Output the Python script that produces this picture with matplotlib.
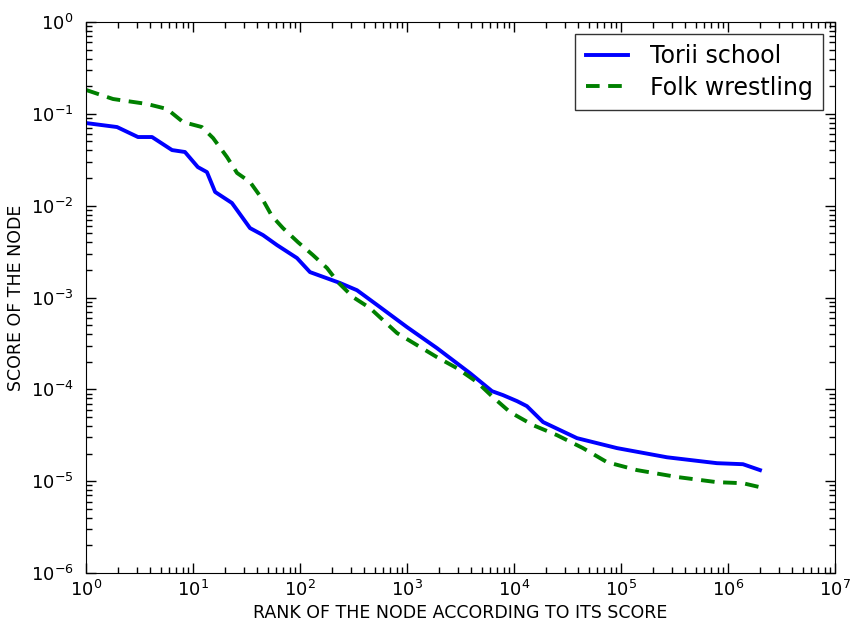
import matplotlib
matplotlib.use("Agg")
import matplotlib.pyplot as plt

# values (rank, score)
torii_rank = [1, 1.95, 3.06, 4.14, 6.37, 8.41, 11.1, 13.5, 16.1, 23.1, 34.1, 45.1, 61, 93.7,
              124, 236, 341, 525, 1000, 1906, 3880, 6230, 7890, 10700, 13200, 18700,
              38800, 91900, 269000, 789000, 1.38e6, 1.99e6]
torii_score = [0.0794, 0.0718, 0.0559, 0.0559, 0.0403, 0.0384, 0.0263, 0.0232, 0.0141, 0.0107,
               0.0057, 0.00478, 0.00372, 0.00269, 0.00189, 0.00144, 0.00120, 0.00083,
               0.000476, 0.000281, 0.000150, 9.55e-5, 8.65e-5, 7.43e-5, 6.56e-5, 4.4e-5,
               2.94e-5, 2.29e-5, 1.82e-5, 1.57e-5, 1.53e-5, 1.32e-5]

folk_rank = [1, 1.79, 3.72, 5.71, 8.07, 12.1, 15.4, 20.8, 25.8, 34.1, 45.1, 54.7, 69.3, 95.8,
             132, 179, 226, 313, 451, 807, 1240, 1906, 2930, 4510, 6370, 9180, 15100,
             25200, 44100, 74000, 141000, 334000, 789000, 1.38e6, 1.99e6]
folk_score = [0.182, 0.145, 0.128, 0.113, 0.0814, 0.0718, 0.0545, 0.0338, 0.0227, 0.0181,
              0.0115, 0.0077, 0.0057, 0.0040, 0.0029, 0.00209, 0.00147, 0.00101, 0.000767,
              0.000410, 0.000303, 0.000224, 0.000170, 0.000120, 8.2e-5, 5.65e-5, 4.07e-5,
              3.17e-5, 2.29e-5, 1.61e-5, 1.32e-5, 1.11e-5, 9.75e-6, 9.5e-6, 8.6e-6]

plt.rcParams['font.family'] = ['DejaVu Sans']

fig = plt.figure(figsize=(8.5, 6.29), dpi=100)
ax = fig.add_axes([86 / 850, 1 - 573 / 629, (835 - 86) / 850, (573 - 22) / 629])

ax.plot(torii_rank, torii_score, color='blue', lw=2.8, label='Torii school')
ax.plot(folk_rank, folk_score, color='green', lw=2.8, dashes=(3.5, 2.2), label='Folk wrestling')

ax.set_xscale('log')
ax.set_yscale('log')
ax.set_xlim(1, 1e7)
ax.set_ylim(1e-6, 1)

ax.tick_params(which='both', direction='in', top=True, right=True, labelsize=13)
ax.tick_params(which='major', length=7, width=1)
ax.tick_params(which='minor', length=4, width=1)
ax.tick_params(axis='x', pad=5)
ax.tick_params(axis='y', pad=9)

ax.set_xlabel('RANK OF THE NODE ACCORDING TO ITS SCORE', fontsize=12.5, labelpad=3)
ax.set_ylabel('SCORE OF THE NODE', fontsize=12.5, labelpad=4)

leg = ax.legend(loc='upper right', fontsize=17, fancybox=False, handlelength=1.8,
                borderpad=0.45, labelspacing=0.3, handletextpad=0.9,
                borderaxespad=0.5)
leg.get_frame().set_edgecolor('black')
leg.get_frame().set_linewidth(1)

plt.savefig('out.png', dpi=100)
